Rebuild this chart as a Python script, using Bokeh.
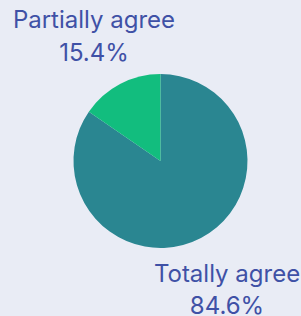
import math
from bokeh.plotting import figure
from bokeh.models import ColumnDataSource, Range1d
from bokeh.core.properties import value
from bokeh.embed import file_html
from bokeh.resources import INLINE

# ---- data ----
labels = ["Totally agree", "Partially agree"]
values = [84.6, 15.4]
colors = ["#2a8691", "#12bd7e"]

# ---- style / layout ----
BG = "#e9ecf5"
TEXT_COLOR = "#3f51a6"
FONT = "Inter"
W, H = 301, 316
CX, CY = 160, 155.5
R = 87
LABEL_R = 143

total = sum(values)
starts, ends, lx, ly, pct = [], [], [], [], []
cum = 0.0
for v in values:
    a0 = math.pi / 2 - 2 * math.pi * cum / total
    cum += v
    a1 = math.pi / 2 - 2 * math.pi * cum / total
    starts.append(a0)
    ends.append(a1)
    mid = (a0 + a1) / 2
    lx.append(CX + LABEL_R * math.cos(mid))
    ly.append(CY + LABEL_R * math.sin(mid))
    pct.append(f"{v / total * 100:.1f}%")

src = ColumnDataSource(dict(
    label=labels, value=values, color=colors,
    start=starts, end=ends, lx=lx,
    ly1=[y + 14.5 for y in ly], ly2=[y - 18 for y in ly], pct=pct,
))

p = figure(width=W, height=H, output_backend="svg", toolbar_location=None,
           x_range=Range1d(0, W), y_range=Range1d(0, H),
           x_axis_type=None, y_axis_type=None,
           min_border=0, background_fill_color=BG, border_fill_color=BG)
p.outline_line_color = None
p.grid.visible = False

p.wedge(x=CX, y=CY, radius=R, start_angle="start", end_angle="end",
        direction="clock", fill_color="color", line_color=None, source=src)

p.text(x="lx", y="ly1", text="label", source=src, text_align="center",
       text_baseline="alphabetic", text_font=value(FONT), text_font_size="24px",
       text_color=TEXT_COLOR)
p.text(x="lx", y="ly2", text="pct", source=src, text_align="center",
       text_baseline="alphabetic", text_font=value(FONT), text_font_size="24px",
       text_color=TEXT_COLOR)

html = file_html(p, INLINE)
html = html.replace("<head>", "<head><style>html,body{background:%s;}</style>" % BG, 1)
open("out.html", "w").write(html)
